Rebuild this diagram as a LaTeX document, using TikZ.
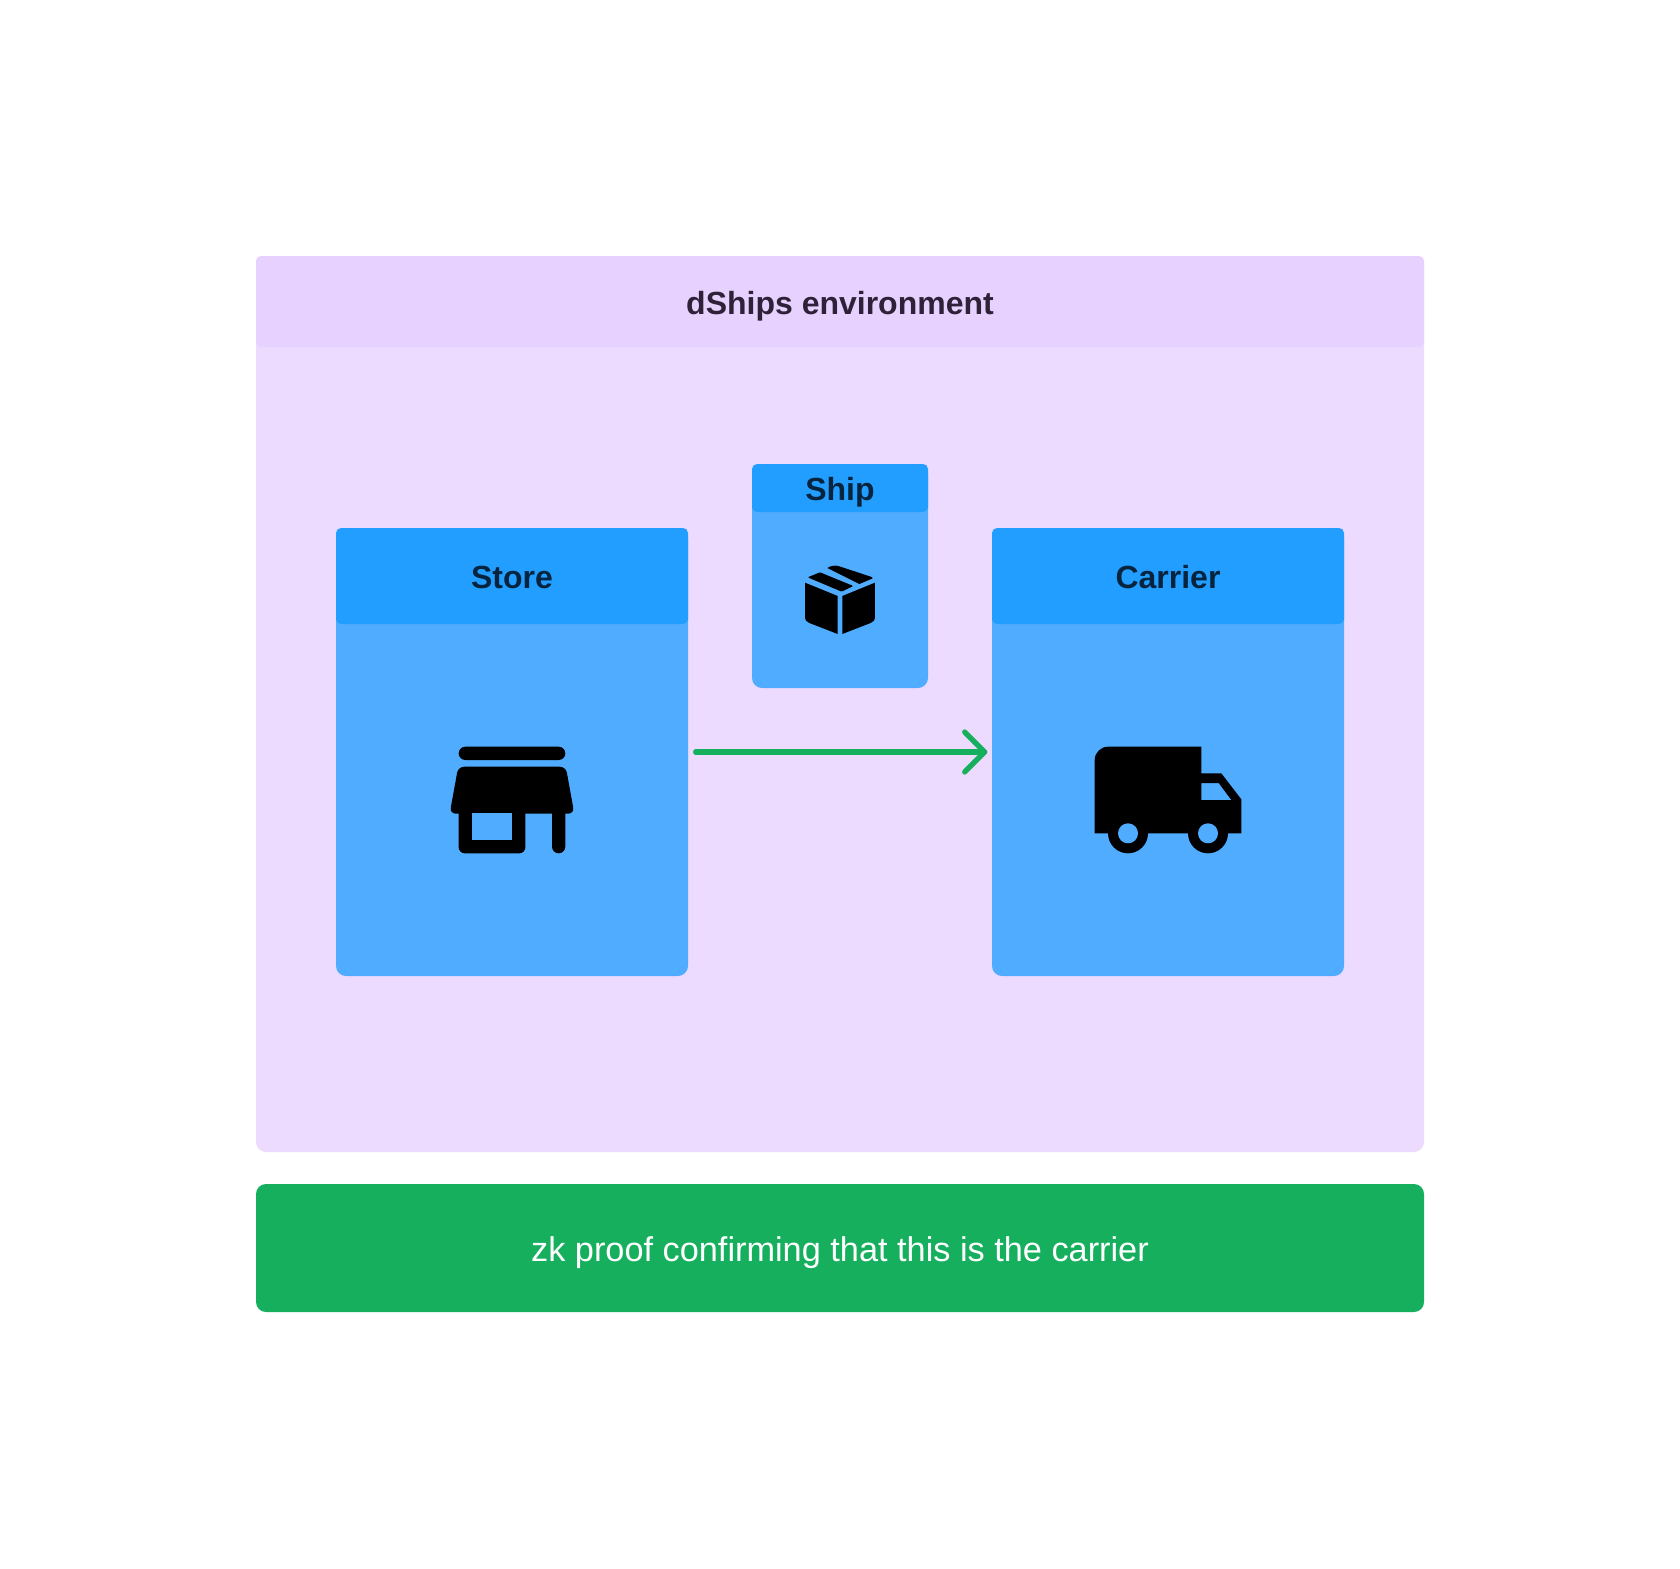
\documentclass[tikz,border=0pt]{standalone}
\usepackage{fontspec}
\setmainfont{Liberation Sans}
\usetikzlibrary{calc}
\definecolor{envbody}{HTML}{EDDBFF}
\definecolor{envhead}{HTML}{E6D1FF}
\definecolor{bluebody}{HTML}{4FACFF}
\definecolor{bluehead}{HTML}{219EFF}
\definecolor{proofgreen}{HTML}{16AF5D}
\definecolor{envtext}{HTML}{2F2238}
\definecolor{bluetext}{HTML}{06243D}
\tikzset{
  panel/.style={rectangle,anchor=north west,inner sep=0pt,outer sep=0pt,rounded corners=10pt},
  envpanel/.style={panel,fill=envbody},
  envtitle/.style={panel,fill=envhead,rounded corners=5pt,text=envtext,font=\fontsize{32}{38}\selectfont\bfseries,text height=25pt,text depth=0pt},
  bluepanel/.style={panel,fill=bluebody},
  bluetitle/.style={panel,fill=bluehead,rounded corners=5pt,text=bluetext,font=\fontsize{32}{38}\selectfont\bfseries,text height=25pt,text depth=0pt},
  proofpanel/.style={panel,fill=proofgreen,text=white,font=\fontsize{34.3}{40}\selectfont,text height=26pt,text depth=0pt},
  flow/.style={draw=proofgreen,line width=5.33pt,line cap=round,line join=round},
  icon/.style={fill=black,draw=none},
}
\begin{document}
\begin{tikzpicture}[x=1pt,y=-1pt]
\useasboundingbox (0,0) rectangle (1680,1568);
\fill[white] (0,0) rectangle (1680,1568);
\node[envpanel,minimum width=1168pt,minimum height=896pt] (env) at (256,256) {};
\node[envtitle,minimum width=1168pt,minimum height=91pt] (envt) at (256,256) {dShips environment};
\node[bluepanel,minimum width=352pt,minimum height=448pt] (store) at (336,528) {};
\node[bluetitle,minimum width=352pt,minimum height=96pt] (storet) at (336,528) {Store};
\node[bluepanel,minimum width=352pt,minimum height=448pt] (carrier) at (992,528) {};
\node[bluetitle,minimum width=352pt,minimum height=96pt] (carriert) at (992,528) {Carrier};
\node[bluepanel,minimum width=176pt,minimum height=224pt] (ship) at (752,464) {};
\node[bluetitle,minimum width=176pt,minimum height=48pt] (shipt) at (752,464) {Ship};
\node[proofpanel,minimum width=1168pt,minimum height=128pt] (proof) at (256,1184) {zk proof confirming that this is the carrier};
% arrow
\draw[flow,shorten <=7.7pt,shorten >=8pt] (store.east) -- (carrier.west);
\draw[flow] ($(carrier.west)+(-27.3,-20)$) -- ($(carrier.west)+(-7.3,0)$) -- ($(carrier.west)+(-27.3,20)$);
% store icon
\fill[icon,rounded corners=6.6pt] (458.7,746.7) rectangle (565.3,760);
\fill[icon,rounded corners=6pt] (458.2,766.7) -- (565.8,766.7) -- (574.3,813.6) -- (449.7,813.6) -- cycle;
\fill[icon,rounded corners=6pt] (458.7,800) -- (525.3,800) -- (525.3,853.3) -- (458.7,853.3) -- cycle;
\fill[bluebody] (472,813.3) rectangle (512,840);
\fill[icon,rounded corners=6.6pt] (552,800) -- (565.3,800) -- (565.3,853.3) -- (552,853.3) -- cycle;
% truck icon
\fill[icon,even odd rule] (1094.7,760) arc[start angle=180,end angle=270,radius=13.3] -- (1201.3,746.7) -- (1201.3,773.3) -- (1221.3,773.3) -- (1241.3,799.3) -- (1241.3,833.3) -- (1094.7,833.3) -- cycle
  (1201.3,783) -- (1218.7,783) -- (1231.3,800) -- (1201.3,800) -- cycle;
\fill[icon] (1128,833.3) circle[radius=20] (1208,833.3) circle[radius=20];
\fill[bluebody] (1128,833.3) circle[radius=10] (1208,833.3) circle[radius=10];
% box icon
\begin{scope}[shift={(740,450)},x=0.3333pt,y=-0.3333pt]
\fill[icon] (195,398) -- (293,438) -- (293,552) -- (208,519) .. controls (199,515) and (195,510) .. (195,503) -- cycle;
\fill[icon] (405,398) -- (307,438) -- (307,552) -- (392,519) .. controls (401,515) and (405,510) .. (405,503) -- cycle;
\fill[icon,rounded corners=1pt] (203,382) -- (240,367) -- (340,408) -- (305,425) -- cycle;
\fill[icon] (262,354) .. controls (272,347) and (286,345) .. (298,349) -- (395,381) .. controls (399,383) and (399,385) .. (396,386) -- (358,402) -- cycle;
\end{scope}
\end{tikzpicture}
\end{document}
